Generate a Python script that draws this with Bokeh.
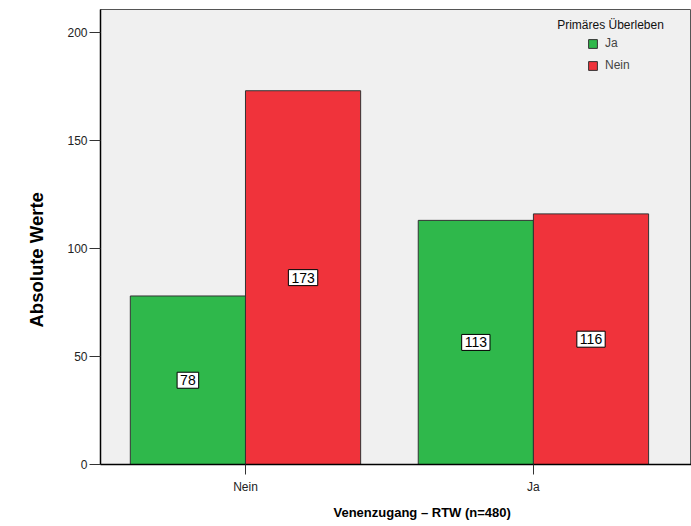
from bokeh.plotting import figure
from bokeh.models import (ColumnDataSource, Legend, LegendItem, Label, Title,
                          FixedTicker, Range1d)
from bokeh.core.properties import value
from bokeh.embed import file_html
from bokeh.resources import INLINE

categories = ["Nein", "Ja"]
series_names = ["Ja", "Nein"]
ja_values = [78, 113]
nein_values = [173, 116]
series_colors = ["#2fb84b", "#f0333b"]
y_ticks = [0, 50, 100, 150, 200]
legend_title = "Primäres Überleben"
x_title = "Venenzugang – RTW (n=480)"
y_title = "Absolute Werte"

FONT = "Liberation Sans"
cat_pos = [i + 1 for i in range(len(categories))]
bar_w = 0.4
offsets = [-0.2, 0.2]

p = figure(width=691, height=526, output_backend="svg", toolbar_location=None,
           x_range=Range1d(0.4965, 2.549), y_range=Range1d(0, 210.6),
           min_border_left=100, min_border_right=0, min_border_top=9,
           min_border_bottom=62)
p.background_fill_color = "#f0f0f0"
p.border_fill_color = "white"
p.outline_line_color = "#555555"
p.outline_line_width = 1
p.xgrid.visible = False
p.ygrid.visible = False

renderers = []
for vals, off, col in zip([ja_values, nein_values], offsets, series_colors):
    src = ColumnDataSource(dict(x=[c + off for c in cat_pos], top=vals,
                                mid=[v / 2 for v in vals],
                                lbl=[str(v) for v in vals]))
    r = p.vbar(x="x", top="top", width=bar_w, source=src, fill_color=col,
               line_color="#333333", line_width=1)
    renderers.append(r)
    p.text(x="x", y="mid", text="lbl", source=src,
           text_align="center", text_baseline="middle",
           text_font=value(FONT), text_font_size="14px", text_color="black",
           background_fill_color="white", border_line_color="black",
           border_line_width=1, padding=(3, 3))

legend = Legend(items=[LegendItem(label=n, renderers=[r]) for n, r in zip(series_names, renderers)],
                location=(487, 392), orientation="vertical", padding=0, margin=0,
                spacing=8, glyph_width=11, glyph_height=11, label_height=11,
                label_standoff=7, label_text_font=FONT, label_text_font_size="12px",
                background_fill_alpha=0, border_line_alpha=0)
p.add_layout(legend)
p.add_layout(Label(x=510, y=440, x_units="screen", y_units="screen", text=legend_title,
                   text_font=FONT, text_font_size="12px", text_align="center",
                   text_baseline="middle", text_color="#111111"))

# axis titles, placed off-centre like the reference
p.add_layout(Title(text=x_title, align="left", offset=233, standoff=13,
                   text_font=FONT, text_font_size="13px", text_font_style="bold",
                   text_color="black"), "below")
p.add_layout(Title(text=y_title, align="left", offset=137, standoff=35,
                   text_font=FONT, text_font_size="18.5px", text_font_style="bold",
                   text_color="black"), "left")

p.xaxis.ticker = FixedTicker(ticks=cat_pos)
p.xaxis.major_label_overrides = {c: n for c, n in zip(cat_pos, categories)}
p.yaxis.ticker = FixedTicker(ticks=y_ticks)
for ax in (p.xaxis, p.yaxis):
    ax.axis_line_color = "black"
    ax.axis_line_width = 1.5
    ax.major_tick_line_color = "#333333"
    ax.major_tick_in = 0
    ax.minor_tick_line_color = None
    ax.major_label_text_font = FONT
    ax.major_label_text_font_size = "12px"
    ax.major_label_text_color = "#222222"
p.xaxis.major_tick_out = 10
p.yaxis.major_tick_out = 11
p.xaxis.major_label_standoff = 5
p.yaxis.major_label_standoff = 2

open("out.html", "w").write(file_html(p, INLINE))
